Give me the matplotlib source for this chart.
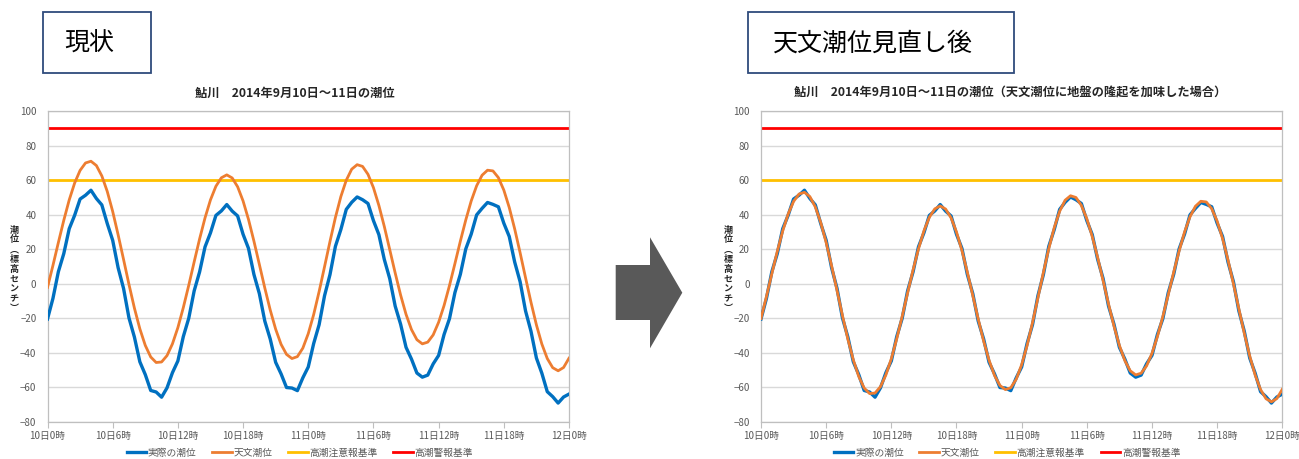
import matplotlib
matplotlib.use('Agg')
import matplotlib.pyplot as plt
from matplotlib.patches import Polygon, Rectangle

plt.rcParams['font.family'] = ['Noto Sans CJK JP', 'DejaVu Sans']

# hours since 10日0時, half-hourly
hours = [i * 0.5 for i in range(97)]

observed = [
    -20.5, -8.6, 6.9, 17.4, 31.8, 39.6, 49.0, 51.2, 54.1, 49.3,
    45.6, 34.8, 25.1, 9.2, -2.8, -19.9, -31.0, -45.3, -52.7, -61.9,
    -62.8, -65.8, -60.4, -51.6, -44.8, -30.7, -20.1, -4.2, 6.8, 21.3,
    29.4, 39.5, 42.1, 45.8, 42.0, 39.2, 28.6, 20.4, 5.3, -5.8,
    -21.7, -32.1, -45.6, -52.3, -60.2, -60.5, -62.0, -54.6, -48.3, -34.7,
    -23.8, -7.0, 5.2, 21.6, 31.3, 43.0, 47.1, 50.2, 48.6, 46.4,
    36.5, 28.4, 14.0, 2.9, -13.0, -23.5, -36.9, -43.7, -51.8, -54.2,
    -53.0, -46.5, -41.6, -29.5, -20.3, -5.2, 5.4, 20.1, 28.7, 39.8,
    43.6, 47.0, 45.9, 44.5, 35.0, 27.3, 12.5, 1.1, -15.8, -27.6,
    -43.1, -51.9, -62.6, -65.5, -69.2, -65.7, -64.0,
]

astro_current = [
    -2.2, 10.5, 23.8, 36.7, 48.5, 58.3, 65.6, 69.9, 70.9, 68.4,
    62.4, 53.4, 41.8, 28.3, 14.0, -0.5, -14.2, -26.2, -35.8, -42.5,
    -45.7, -45.4, -41.7, -34.9, -25.5, -13.9, -1.0, 12.6, 25.9, 38.1,
    48.5, 56.4, 61.3, 63.0, 61.2, 56.1, 47.9, 37.2, 24.6, 11.1,
    -2.5, -15.3, -26.4, -35.2, -41.0, -43.4, -42.3, -37.4, -29.0, -17.9,
    -4.6, 9.8, 24.4, 38.3, 50.4, 59.9, 66.3, 68.9, 67.9, 63.3,
    55.6, 45.3, 33.1, 19.7, 6.2, -6.6, -17.8, -26.6, -32.5, -34.9,
    -33.9, -29.7, -22.4, -12.7, -1.1, 11.6, 24.6, 36.9, 47.9, 56.7,
    62.8, 65.7, 65.3, 61.4, 54.2, 44.1, 31.7, 17.9, 3.4, -10.8,
    -23.9, -35.0, -43.4, -48.7, -50.5, -48.6, -43.2,
]

astro_revised = [
    -20.2, -7.5, 5.8, 18.7, 30.5, 40.3, 47.6, 51.9, 52.9, 50.4,
    44.4, 35.4, 23.8, 10.3, -4.0, -18.5, -32.2, -44.2, -53.8, -60.5,
    -63.7, -63.4, -59.7, -52.9, -43.5, -31.9, -19.0, -5.4, 7.9, 20.1,
    30.5, 38.4, 43.3, 45.0, 43.2, 38.1, 29.9, 19.2, 6.6, -6.9,
    -20.5, -33.3, -44.4, -53.2, -59.0, -61.4, -60.3, -55.4, -47.0, -35.9,
    -22.6, -8.2, 6.4, 20.3, 32.4, 41.9, 48.3, 50.9, 49.9, 45.3,
    37.6, 27.3, 15.1, 1.7, -11.8, -24.6, -35.8, -44.6, -50.5, -52.9,
    -51.9, -47.7, -40.4, -30.7, -19.1, -6.4, 6.6, 18.9, 29.9, 38.7,
    44.8, 47.7, 47.3, 43.4, 36.2, 26.1, 13.7, -0.1, -14.6, -28.8,
    -41.9, -53.0, -61.4, -66.7, -68.5, -66.6, -61.2,
]

caution_level = 60
warning_level = 90

tick_hours = [0, 6, 12, 18, 24, 30, 36, 42, 48]
tick_labels = ['10日0時', '10日6時', '10日12時', '10日18時', '11日0時',
               '11日6時', '11日12時', '11日18時', '12日0時']

series_names = ['実際の潮位', '天文潮位', '高潮注意報基準', '高潮警報基準']
titles = ['鮎川　2014年9月10日～11日の潮位',
          '鮎川　2014年9月10日～11日の潮位（天文潮位に地盤の隆起を加味した場合）']
headings = ['現状', '天文潮位見直し後']
ylabel_chars = '潮位︵標高センチ︶'

BLUE = '#0070C0'
ORANGE = '#ED7D31'
GOLD = '#FFC000'
RED = '#FF0000'
GRID = '#D9D9D9'
TXT = '#595959'

W, H = 1299, 459
fig = plt.figure(figsize=(W / 100, H / 100), dpi=100)


def px_rect(x0, y0, x1, y1):
    return [x0 / W, 1 - y1 / H, (x1 - x0) / W, (y1 - y0) / H]


def draw_panel(ax, astro, title, legend_x, title_x, ylabel_x):
    ax.plot(hours, observed, color=BLUE, lw=2.4, label=series_names[0],
            solid_joinstyle='round', zorder=3)
    ax.plot(hours, astro, color=ORANGE, lw=2.0, label=series_names[1], zorder=4)
    ax.axhline(caution_level, color=GOLD, lw=2.0, label=series_names[2], zorder=2)
    ax.axhline(warning_level, color=RED, lw=2.0, label=series_names[3], zorder=2)

    ax.set_xlim(0, 48)
    ax.set_ylim(-80, 100)
    ax.set_yticks(range(-80, 101, 20))
    ax.set_xticks(tick_hours)
    ax.set_xticklabels(tick_labels)
    ax.grid(axis='y', color=GRID, lw=1.0)
    ax.set_axisbelow(True)
    for s in ax.spines.values():
        s.set_color('#BFBFBF')
        s.set_linewidth(0.9)
    ax.tick_params(axis='y', length=0, pad=8, labelsize=7, labelcolor=TXT)
    ax.tick_params(axis='x', length=4, color='#BFBFBF', pad=3, labelsize=7,
                   labelcolor=TXT)

    leg = ax.legend(loc='center', bbox_to_anchor=(legend_x, -0.1), ncol=4,
                    frameon=False, fontsize=7, handlelength=2.0,
                    handletextpad=0.2, columnspacing=1.6)
    for t in leg.get_texts():
        t.set_color(TXT)

    fig.text(title_x / W, 1 - 93 / H, title, ha='center', va='center',
             fontsize=8.8, fontweight='bold', color='#262626')
    # vertical (stacked) y-axis title
    for i, ch in enumerate(ylabel_chars):
        fig.text(ylabel_x / W, 1 - (230 + i * 9.8) / H, ch, ha='center',
                 va='center', fontsize=6.5, fontweight='bold', color='#262626')


ax1 = fig.add_axes(px_rect(47.5, 111, 569, 421.7))
draw_panel(ax1, astro_current, titles[0], 0.484, 295, 14)

ax2 = fig.add_axes(px_rect(761, 111, 1282.3, 421.7))
draw_panel(ax2, astro_revised, titles[1], 0.472, 1010, 728)

# heading boxes
for (x0, x1, tx, label, ha) in [(43.3, 151, 64, headings[0], 'left'),
                                (747.7, 1014.3, 873, headings[1], 'center')]:
    fig.patches.append(Rectangle((x0 / W, 1 - 73.3 / H), (x1 - x0) / W,
                                 61.6 / H, transform=fig.transFigure,
                                 facecolor='white', edgecolor='#2F4B7C', lw=1.3))
    fig.text(tx / W, 1 - 44 / H, label, ha=ha, va='center', fontsize=18,
             color='black')

# arrow
arrow_px = [(615.7, 265), (650, 265), (650, 237.3), (682.3, 292.7),
            (650, 348.3), (650, 320), (615.7, 320)]
fig.patches.append(Polygon([(x / W, 1 - y / H) for x, y in arrow_px],
                           closed=True, transform=fig.transFigure,
                           facecolor='#595959', edgecolor='none'))

fig.savefig('out.png', dpi=100)
